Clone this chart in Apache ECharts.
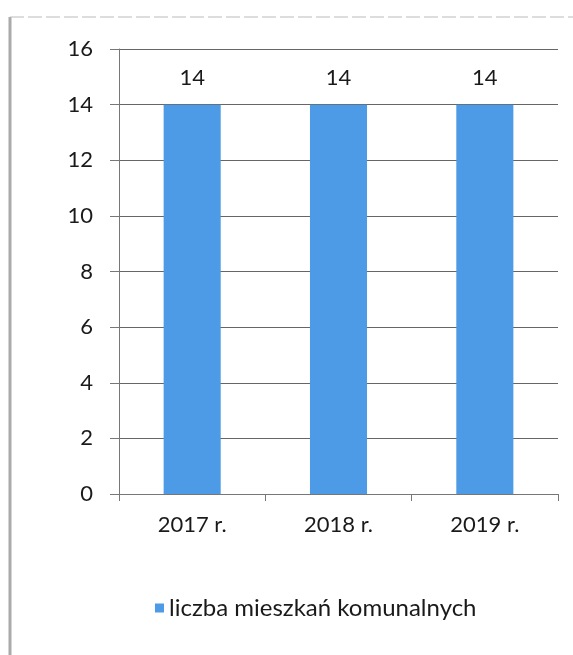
<!DOCTYPE html>
<html><head><meta charset="utf-8">
<script src="https://cdn.jsdelivr.net/npm/echarts@6/dist/echarts.min.js"></script>
<style>html,body{margin:0;padding:0;background:#fff}#c{width:573px;height:655px}</style>
</head><body><div id="c"></div>
<script>
const categories = ['2017 r.', '2018 r.', '2019 r.'];
const values = [14, 14, 14];
const seriesName = 'liczba mieszkań komunalnych';
const yMin = 0, yMax = 16, yStep = 2;

const font = 'Lato, "Open Sans", sans-serif';
const chart = echarts.init(document.getElementById('c'));
chart.setOption({
  animation: false,
  backgroundColor: '#fff',
  graphic: [
    {type: 'line', shape: {x1: 10, y1: 17, x2: 10, y2: 655}, style: {stroke: '#aaa', lineWidth: 3}},
    {type: 'line', shape: {x1: 10, y1: 17, x2: 573, y2: 17}, style: {stroke: '#bbb', lineWidth: 1, lineDash: [14, 4]}}
  ],
  grid: {left: 119, top: 49, right: 15, bottom: 161, containLabel: false},
  legend: {
    data: [seriesName],
    left: 150, top: 591,
    icon: 'rect', itemWidth: 9, itemHeight: 9, itemGap: 7,
    textStyle: {fontFamily: font, fontSize: 24, color: '#1a1a1a'}
  },
  xAxis: {
    type: 'category', data: categories,
    axisLine: {lineStyle: {color: '#777', width: 1}},
    axisTick: {show: true, length: 7, lineStyle: {color: '#777'}},
    axisLabel: {fontFamily: font, fontSize: 22, color: '#1a1a1a', margin: 20}
  },
  yAxis: {
    type: 'value', min: yMin, max: yMax, interval: yStep,
    axisLine: {show: true, lineStyle: {color: '#777'}},
    axisTick: {show: true, length: 9, lineStyle: {color: '#777'}},
    axisLabel: {fontFamily: font, fontSize: 22, color: '#1a1a1a', margin: 26},
    splitLine: {lineStyle: {color: '#666', width: 1}}
  },
  series: [{
    name: seriesName, type: 'bar', data: values,
    barWidth: '39%',
    itemStyle: {color: '#4d9be6'},
    label: {show: true, position: 'top', distance: 16, fontFamily: font, fontSize: 22, color: '#1a1a1a'}
  }]
});
</script></body></html>
